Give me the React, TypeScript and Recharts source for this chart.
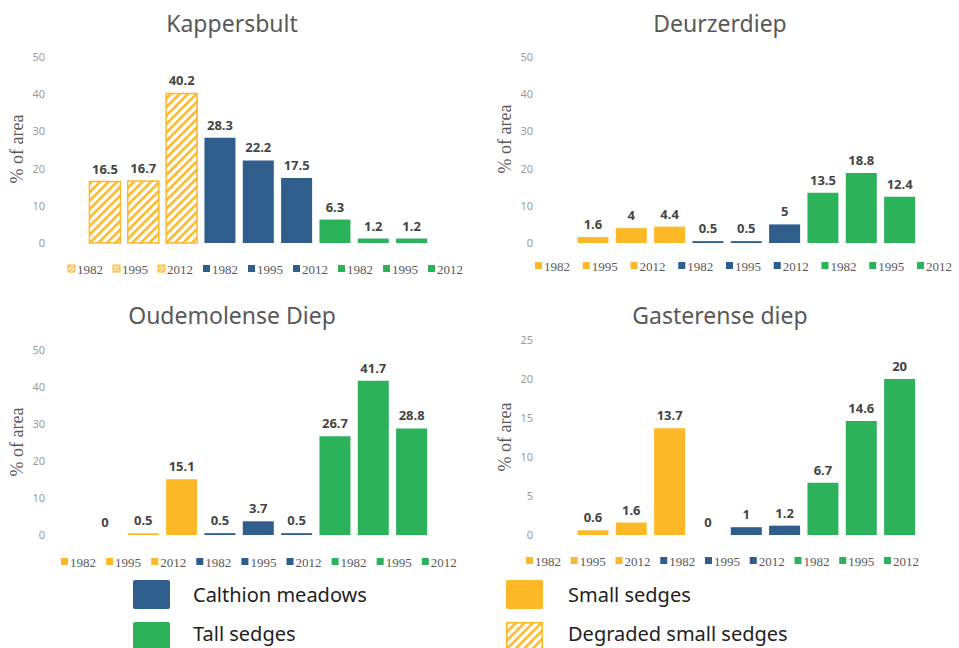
import React from 'react';
import { BarChart, Bar, XAxis, YAxis, Cell, LabelList } from 'recharts';

// ---- data ----
const years = ['1982', '1995', '2012', '1982', '1995', '2012', '1982', '1995', '2012'];
const groups = ['small', 'small', 'small', 'calthion', 'calthion', 'calthion', 'tall', 'tall', 'tall'];
const kappersbult = [16.5, 16.7, 40.2, 28.3, 22.2, 17.5, 6.3, 1.2, 1.2];
const deurzerdiep = [1.6, 4, 4.4, 0.5, 0.5, 5, 13.5, 18.8, 12.4];
const oudemolense = [0, 0.5, 15.1, 0.5, 3.7, 0.5, 26.7, 41.7, 28.8];
const gasterense = [0.6, 1.6, 13.7, 0, 1, 1.2, 6.7, 14.6, 20];
const ticks50 = [0, 10, 20, 30, 40, 50];
const ticks25 = [0, 5, 10, 15, 20, 25];
const legendItems = ['Calthion meadows', 'Small sedges', 'Tall sedges', 'Degraded small sedges'];

const ORANGE = '#FCB827';
const BLUE = '#2F5E8D';
const GREEN = '#2BB25B';
const colorOf: Record<string, string> = { small: ORANGE, calthion: BLUE, tall: GREEN };

type PanelProps = {
  values: number[];
  hatched: boolean;
  left: number;
  top: number;
  width: number;
  height: number;
  margin: { top: number; right: number; bottom: number; left: number };
  yMax: number;
  yTicks: number[];
};

const renderValueLabel = (props: any) => {
  const { x, y, width, height, value } = props;
  if (x == null || y == null) return null;
  const top = Math.min(Number(y), Number(y) + Number(height || 0));
  return (
    <text
      x={Number(x) + Number(width) / 2}
      y={top - 8}
      textAnchor="middle"
      fill="#454545"
      fontSize={13}
      fontWeight="bold"
      fontFamily="Noto Sans"
    >
      {String(value)}
    </text>
  );
};

function Panel({ values, hatched, left, top, width, height, margin, yMax, yTicks }: PanelProps) {
  const data = values.map((v, i) => ({ key: i, year: years[i], group: groups[i], value: v }));
  return (
    <div style={{ position: 'absolute', left, top, width, height }}>
      <BarChart width={width} height={height} data={data} margin={margin} barCategoryGap="9%">
        <XAxis dataKey="key" type="category" hide />
        <YAxis
          type="number"
          domain={[0, yMax]}
          ticks={yTicks}
          axisLine={false}
          tickLine={false}
          tickSize={0}
          tickMargin={41}
          width={40}
          interval={0}
          tick={{ fill: '#9c9c9c', fontSize: 11, fontFamily: 'Noto Sans' }}
        />
        <Bar dataKey="value" isAnimationActive={false} minPointSize={0.01}>
          {data.map((d, i) => {
            const h = hatched && d.group === 'small';
            return (
              <Cell
                key={i}
                fill={h ? 'url(#hatchBar)' : colorOf[d.group]}
                stroke={h ? ORANGE : 'none'}
                strokeWidth={h ? 1.5 : 0}
              />
            );
          })}
          <LabelList dataKey="value" content={renderValueLabel} />
        </Bar>
      </BarChart>
    </div>
  );
}

function YearLegend({ x0, pitch, y, hatched }: { x0: number; pitch: number; y: number; hatched: boolean }) {
  return (
    <g>
      {years.map((yr, i) => {
        const x = x0 + pitch * i;
        const h = hatched && groups[i] === 'small';
        return (
          <g key={i}>
            <rect
              x={x}
              y={y - 4}
              width={7}
              height={7}
              fill={h ? 'url(#hatchSmall)' : colorOf[groups[i]]}
              stroke={h ? ORANGE : 'none'}
              strokeWidth={h ? 1 : 0}
            />
            <text
              x={x + 9}
              y={y}
              dominantBaseline="central"
              fontFamily="Liberation Serif"
              fontSize={13}
              fill="#595959"
            >
              {yr}
            </text>
          </g>
        );
      })}
    </g>
  );
}

export default function App() {
  const titleStyle = { fontFamily: 'Noto Sans', fontSize: 23, fill: '#595959' };
  const ylabStyle = { fontFamily: 'Liberation Serif', fontSize: 18, fill: '#595959' };
  const legFont = { fontFamily: 'Noto Sans', fontSize: 20, fill: '#1e1e1e' };
  return (
    <div style={{ position: 'absolute', left: 0, top: 0, width: 959, height: 648, background: '#fff', overflow: 'hidden' }}>
      <svg width={0} height={0} style={{ position: 'absolute' }}>
        <defs>
          <pattern id="hatchBar" patternUnits="userSpaceOnUse" width="6" height="6" patternTransform="rotate(45)">
            <rect x="0" y="0" width="6" height="6" fill="#fff" />
            <rect x="0" y="0" width="2.6" height="6" fill={ORANGE} />
          </pattern>
          <pattern id="hatchSmall" patternUnits="userSpaceOnUse" width="3" height="3" patternTransform="rotate(45)">
            <rect x="0" y="0" width="3" height="3" fill="#fff" />
            <rect x="0" y="0" width="1.5" height="3" fill={ORANGE} />
          </pattern>
          <pattern id="hatchLegend" patternUnits="userSpaceOnUse" width="6" height="6" patternTransform="rotate(45)">
            <rect x="0" y="0" width="6" height="6" fill="#fff" />
            <rect x="0" y="0" width="2.6" height="6" fill={ORANGE} />
          </pattern>
        </defs>
      </svg>

      <Panel values={kappersbult} hatched left={0} top={0} width={480} height={290}
        margin={{ top: 57, right: 49, bottom: 47, left: 46 }} yMax={50} yTicks={ticks50} />
      <Panel values={deurzerdiep} hatched={false} left={480} top={0} width={479} height={290}
        margin={{ top: 57, right: 40, bottom: 47, left: 54 }} yMax={50} yTicks={ticks50} />
      <Panel values={oudemolense} hatched={false} left={0} top={290} width={480} height={290}
        margin={{ top: 60, right: 49, bottom: 45, left: 46 }} yMax={50} yTicks={ticks50} />
      <Panel values={gasterense} hatched={false} left={480} top={290} width={479} height={290}
        margin={{ top: 50, right: 40, bottom: 45, left: 54 }} yMax={25} yTicks={ticks25} />

      <svg width={959} height={648} style={{ position: 'absolute', left: 0, top: 0, pointerEvents: 'none' }}>
        <text x={232} y={32} textAnchor="middle" {...titleStyle}>Kappersbult</text>
        <text x={720} y={32} textAnchor="middle" {...titleStyle}>Deurzerdiep</text>
        <text x={232} y={324} textAnchor="middle" {...titleStyle}>Oudemolense Diep</text>
        <text x={720} y={324} textAnchor="middle" {...titleStyle}>Gasterense diep</text>

        <text x={17} y={149} transform="rotate(-90 17 149)" textAnchor="middle" dominantBaseline="central" {...ylabStyle}>% of area</text>
        <text x={505} y={139} transform="rotate(-90 505 139)" textAnchor="middle" dominantBaseline="central" {...ylabStyle}>% of area</text>
        <text x={17} y={442} transform="rotate(-90 17 442)" textAnchor="middle" dominantBaseline="central" {...ylabStyle}>% of area</text>
        <text x={505} y={437} transform="rotate(-90 505 437)" textAnchor="middle" dominantBaseline="central" {...ylabStyle}>% of area</text>

        <YearLegend x0={68} pitch={45} y={269} hatched />
        <YearLegend x0={535} pitch={47.75} y={266} hatched={false} />
        <YearLegend x0={61} pitch={45.1} y={562} hatched={false} />
        <YearLegend x0={526} pitch={44.75} y={561} hatched={false} />

        <rect x={133} y={580} width={37} height={29} rx={2} fill={BLUE} />
        <text x={193} y={594} dominantBaseline="central" {...legFont}>{legendItems[0]}</text>
        <rect x={506} y={580} width={37} height={29} rx={2} fill={ORANGE} />
        <text x={568} y={594} dominantBaseline="central" {...legFont}>{legendItems[1]}</text>
        <rect x={133} y={622} width={37} height={29} rx={2} fill={GREEN} />
        <text x={193} y={633} dominantBaseline="central" {...legFont}>{legendItems[2]}</text>
        <rect x={506.75} y={622.75} width={35.5} height={29} fill="url(#hatchLegend)" stroke={ORANGE} strokeWidth={1.5} />
        <text x={568} y={633} dominantBaseline="central" {...legFont}>{legendItems[3]}</text>
      </svg>
    </div>
  );
}
